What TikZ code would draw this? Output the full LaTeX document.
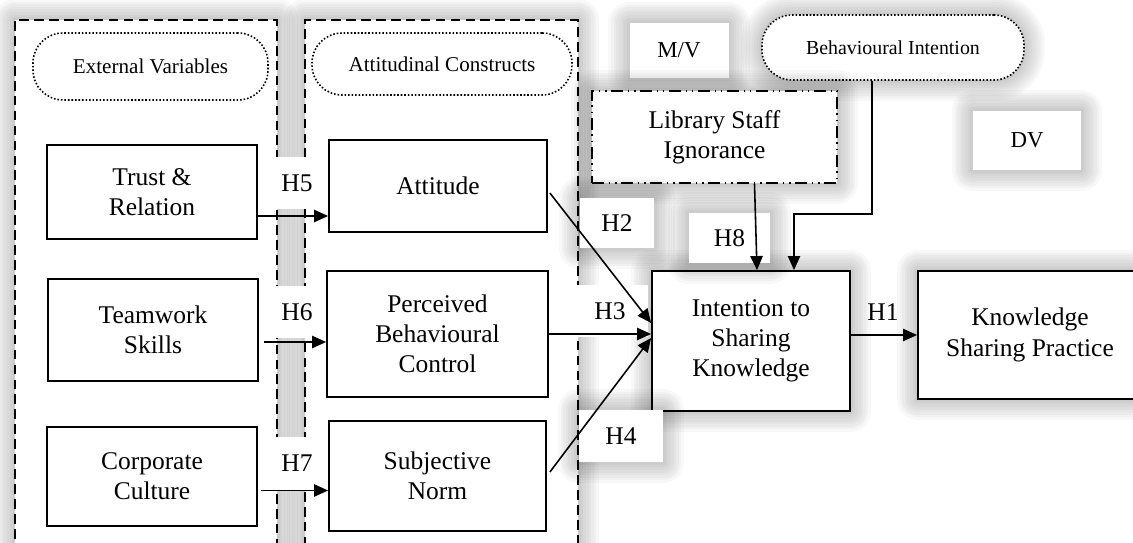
\documentclass[tikz,border=0pt]{standalone}
\usepackage{fontspec}
\setmainfont{Liberation Serif}
\usetikzlibrary{arrows.meta,calc}
\def\u{0.02cm}
\tikzset{
  gl/.style={preaction={draw=black,solid,draw opacity=0.026,line width=#1,line join=round}},
  sh/.style={gl=24pt,gl=21pt,gl=18pt,gl=15pt,gl=12pt,gl=9pt,gl=6pt,gl=3pt},
  concept/.style={draw, line width=1pt, fill=white, inner sep=0pt, align=center, font=\fontsize{14.5}{17.2}\selectfont},
  group/.style={draw, line width=1.1pt, dash pattern=on 5.5pt off 3pt, fill=white, inner sep=0pt},
  pill/.style={draw, line width=0.9pt, dash pattern=on 0.9pt off 1.1pt, rounded corners=0.6cm, fill=white, inner sep=0pt, font=\fontsize{12}{14}\selectfont},
  libbox/.style={draw, line width=0.9pt, dash pattern=on 7pt off 2.5pt on 1pt off 2.5pt on 1pt off 2.5pt, fill=white, inner sep=0pt, align=center, font=\fontsize{14.5}{17.2}\selectfont},
  tag/.style={fill=white, inner sep=0pt, font=\fontsize{14.5}{17.2}\selectfont},
  plainbox/.style={fill=white, inner sep=0pt, font=\fontsize{13}{15}\selectfont},
  arr/.style={line width=0.9pt, -{Triangle[length=8pt,width=7pt]}}
}
\begin{document}
\begin{tikzpicture}[x=0.02cm,y=-0.02cm]
\useasboundingbox (0,0) rectangle (1133,543);
\begin{scope}
\clip (0,0) rectangle (1133,543);
% group boxes
\node[group, sh, minimum width=262*\u, minimum height=580*\u] (g1) at (146,310) {};
\node[group, sh, minimum width=273*\u, minimum height=580*\u] (g2) at (441.5,310) {};
\node[pill, minimum width=235*\u, minimum height=67*\u] (ev) at (150.5,66.5) {External Variables};
\node[pill, minimum width=260*\u, minimum height=62*\u] (ac) at (442,64) {Attitudinal Constructs};
% top right elements
\node[plainbox, sh, minimum width=99*\u, minimum height=55*\u] (mv) at (679,50.5) {M/V};
\node[pill, sh, font=\fontsize{11.3}{13}\selectfont, minimum width=262*\u, minimum height=65*\u] (bi) at (893,47.5) {Behavioural Intention};
\node[libbox, sh, minimum width=245*\u, minimum height=92*\u] (lib) at (714.5,137) {Library Staff\\Ignorance};
\node[plainbox, sh, minimum width=108*\u, minimum height=59*\u] (dv) at (1027,140.5) {DV};
\node[concept, sh, minimum width=198*\u, minimum height=140*\u] (int) at (751,341) {Intention to\\Sharing\\Knowledge};
\node[concept, sh, minimum width=224*\u, minimum height=128*\u] (ksp) at (1030,335) {Knowledge\\Sharing Practice};
% hypothesis labels
\node[tag, sh, minimum width=74*\u, minimum height=50*\u] (h2) at (617,223) {H2};
\node[tag, sh, minimum width=84*\u, minimum height=52*\u] (h4) at (621,436) {H4};
\node[tag, sh, minimum width=81*\u, minimum height=50*\u] (h8) at (729.5,238) {H8};
\node[tag, minimum width=76*\u, minimum height=52*\u] (h3) at (610,311) {H3};
\node[tag, minimum width=64*\u, minimum height=52*\u] (h5) at (297,183) {H5};
\node[tag, minimum width=64*\u, minimum height=52*\u] (h6) at (297,312) {H6};
\node[tag, minimum width=64*\u, minimum height=53*\u] (h7) at (297,463.5) {H7};
\node[tag, fill=none] (h1) at (883,312) {H1};
% concept boxes
\node[concept, minimum width=210*\u, minimum height=94*\u] (trust) at (152,192) {Trust \&\\Relation};
\node[concept, minimum width=210*\u, minimum height=102*\u] (team) at (153,330) {Teamwork\\Skills};
\node[concept, minimum width=210*\u, minimum height=99*\u] (corp) at (152,476.5) {Corporate\\Culture};
\node[concept, minimum width=218*\u, minimum height=92*\u] (att) at (438,186) {Attitude};
\node[concept, minimum width=221*\u, minimum height=126*\u] (pbc) at (437.5,334) {Perceived\\Behavioural\\Control};
\node[concept, minimum width=217*\u, minimum height=110*\u] (sn) at (437.5,476) {Subjective\\Norm};
% connectors
\coordinate (h5s) at ($(trust.east)+(0,24)$);
\draw[arr] (h5s) -- (h5s -| att.west);
\coordinate (h6s) at ($(team.east)+(5,12)$);
\draw[arr] (h6s) -- (h6s -| pbc.west);
\coordinate (h7s) at ($(corp.east)+(3,14)$);
\draw[arr] (h7s) -- (h7s -| sn.west);
\draw[arr] ($(att.east)+(2,7)$) -- ($(int.west)+(0,-18)$);
\draw[arr] (pbc.east) -- (pbc.east -| int.west);
\draw[arr] ($(sn.east)+(3,-4)$) -- ($(int.west)+(0,-3)$);
\draw[arr] ($(lib.south)+(40,0)$) -- ($(int.north)+(6,0)$);
\coordinate (bis) at ($(bi.south)+(-21,0)$);
\coordinate (bie) at ($(int.north)+(43,0)$);
\draw[arr] (bis) |- ($(bie)+(0,-56)$) -- (bie);
\draw[arr] (int.east |- ksp.west) -- (ksp.west);
\end{scope}
\end{tikzpicture}
\end{document}
